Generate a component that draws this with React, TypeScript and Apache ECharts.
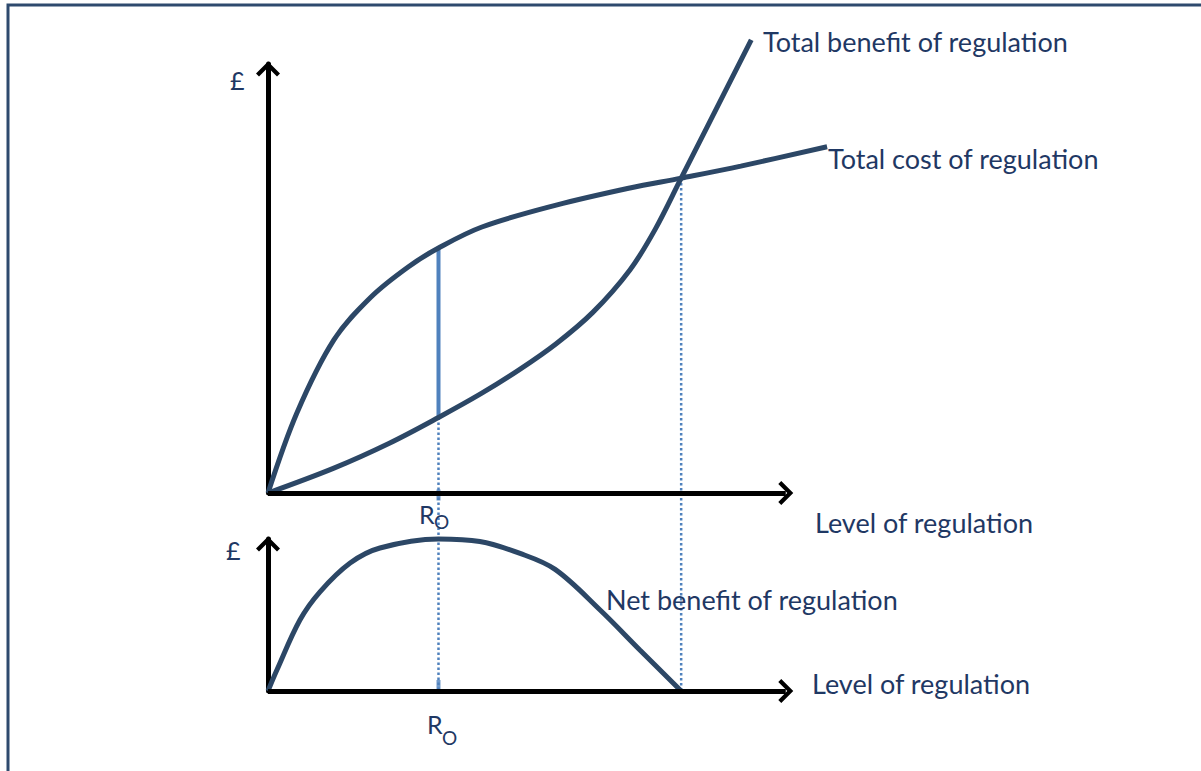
import React, { useEffect, useRef } from "react";
import * as echarts from "echarts";

// Level of regulation (x) and £ (y) (x-axis arrow reaches ~100)
const levelR0 = 32.6;
const levelStar = 79.0;
const axisEnd = 99;
const costX = [0, 5.5, 12.6, 19.7, 26.8, 32.6, 40.9, 55.1, 69.2, 79.0, 90.4, 106.9];
const costY = [0, 18.6, 35.7, 45.7, 52.7, 57.1, 62.0, 67.1, 71.1, 73.4, 76.2, 80.7];
const benefitX = [0, 12.6, 23.2, 32.6, 40.8, 48.0, 55.1, 62.1, 69.2, 74.0, 79.0, 84.0, 92.4];
const benefitY = [0, 5.8, 11.6, 17.6, 23.2, 28.7, 34.8, 42.1, 52.0, 61.4, 73.4, 85.4, 105.6];
const netX = [0, 1.7, 6.1, 9.9, 15.7, 21.4, 32.6, 40.5, 48.2, 54.9, 63.5, 71.1, 79.0];
const netY = [0, 13.8, 46.7, 65.1, 84.2, 94.1, 100, 98.3, 90.5, 80.0, 53.3, 27, 0];

const labels = {
  benefit: "Total benefit of regulation",
  cost: "Total cost of regulation",
  level: "Level of regulation",
  net: "Net benefit of regulation",
  pound: "£",
  r: "R",
  o: "O",
};

const CURVE = "#2c4766";
const BLUE = "#4f81bd";
const TEXT = "#1f3864";
const FONT = "Lato, 'Open Sans', sans-serif";
const CHEVRON = "path://M12 0 L24 12 L21 15 L12 6 L3 15 L0 12 Z";
const X_MAX = 110;
const PX_PER_UNIT = 5.23;

const zip = (xs: number[], ys: number[]) => xs.map((x, i) => [x, ys[i]]);

export default function App() {
  const ref = useRef<HTMLDivElement>(null);
  useEffect(() => {
    document.body.style.margin = "0";
    const chart = echarts.init(ref.current!, undefined, { renderer: "svg" });

    const hidden = {
      axisTick: { show: false },
      axisLabel: { show: false },
      splitLine: { show: false },
    };
    const yAxisLine = {
      show: true,
      onZero: false,
      symbol: ["none", CHEVRON],
      symbolSize: [24, 15],
      symbolOffset: [0, -5],
      lineStyle: { color: "#000", width: 5 },
    };
    const xAxisMark = {
      silent: true,
      symbol: ["none", CHEVRON],
      symbolSize: [24, 15],
      label: { show: false },
      emphasis: { disabled: true },
      lineStyle: { color: "#000", width: 5, type: "solid" },
      data: [[{ coord: [0, 0] }, { coord: [axisEnd, 0] }]],
    };

    chart.setOption({
      animation: false,
      backgroundColor: "#fff",
      grid: [
        { left: 268, top: 64, width: PX_PER_UNIT * X_MAX, height: 429 },
        { left: 268, top: 539, width: PX_PER_UNIT * X_MAX, height: 152 },
      ],
      xAxis: [
        { type: "value", gridIndex: 0, min: 0, max: X_MAX, axisLine: { show: false }, ...hidden },
        { type: "value", gridIndex: 1, min: 0, max: X_MAX, axisLine: { show: false }, ...hidden },
      ],
      yAxis: [
        { type: "value", gridIndex: 0, min: 0, max: 100, axisLine: yAxisLine, ...hidden },
        { type: "value", gridIndex: 1, min: 0, max: 100, axisLine: yAxisLine, ...hidden },
      ],
      series: [
        {
          type: "line",
          name: labels.cost,
          xAxisIndex: 0,
          yAxisIndex: 0,
          data: zip(costX, costY),
          smooth: 0.35,
          showSymbol: false,
          clip: false,
          lineStyle: { color: CURVE, width: 5 },
          markLine: xAxisMark,
          z: 3,
        },
        {
          type: "line",
          name: labels.benefit,
          xAxisIndex: 0,
          yAxisIndex: 0,
          data: zip(benefitX, benefitY),
          smooth: 0.35,
          showSymbol: false,
          clip: false,
          lineStyle: { color: CURVE, width: 5 },
          z: 3,
        },
        {
          type: "line",
          name: "gap",
          xAxisIndex: 0,
          yAxisIndex: 0,
          data: [
            [levelR0, benefitY[3]],
            [levelR0, costY[5]],
          ],
          showSymbol: false,
          lineStyle: { color: BLUE, width: 4 },
          z: 2,
        },
        {
          type: "scatter",
          xAxisIndex: 0,
          yAxisIndex: 0,
          data: [[levelR0, 0]],
          symbol: "rect",
          symbolSize: [4, 11],
          symbolOffset: [0, 2],
          itemStyle: { color: BLUE },
          clip: false,
          z: 4,
        },
        {
          type: "line",
          name: labels.net,
          xAxisIndex: 1,
          yAxisIndex: 1,
          data: zip(netX, netY),
          smooth: 0.35,
          showSymbol: false,
          clip: false,
          lineStyle: { color: CURVE, width: 5 },
          markLine: xAxisMark,
          z: 3,
        },
        {
          type: "scatter",
          xAxisIndex: 1,
          yAxisIndex: 1,
          data: [[levelR0, 0]],
          symbol: "rect",
          symbolSize: [4, 12],
          symbolOffset: [0, -5],
          itemStyle: { color: BLUE },
          clip: false,
          z: 4,
        },
      ],
    });

    const topR0 = chart.convertToPixel({ gridIndex: 0 }, [levelR0, benefitY[3]]) as number[];
    const botR0 = chart.convertToPixel({ gridIndex: 1 }, [levelR0, 0]) as number[];
    const topStar = chart.convertToPixel({ gridIndex: 0 }, [levelStar, costY[9]]) as number[];
    const botStar = chart.convertToPixel({ gridIndex: 1 }, [levelStar, 0]) as number[];

    const dotted = (a: number[], b: number[]) => ({
      type: "line",
      shape: { x1: a[0], y1: a[1], x2: b[0], y2: b[1] },
      style: { stroke: BLUE, lineWidth: 2.5, lineDash: [2.5, 2.5] },
      z: 1,
      silent: true,
    });
    const txt = (text: string, x: number, y: number, size = 27) => ({
      type: "text",
      x,
      y,
      style: {
        text,
        fill: TEXT,
        font: `${size}px ${FONT}`,
        align: "left",
        verticalAlign: "middle",
      },
      z: 10,
    });

    chart.setOption({
      graphic: [
        {
          type: "polyline",
          shape: { points: [[8, 800], [8, 5], [1210, 5]] },
          style: { stroke: "#2e4a6e", lineWidth: 3, fill: "none" },
          z: 0,
        },
        dotted(topR0, botR0),
        dotted(topStar, botStar),
        txt(labels.benefit, 763, 41),
        txt(labels.cost, 828, 158),
        txt(labels.level, 815, 522),
        txt(labels.net, 606, 599),
        txt(labels.level, 812, 683),
        txt(labels.pound, 230, 80, 25),
        txt(labels.pound, 226, 550, 25),
        txt(labels.r, 419, 514, 25),
        txt(labels.o, 434, 521, 19),
        txt(labels.r, 427, 724, 25),
        txt(labels.o, 442, 737, 19),
      ],
    });

    return () => chart.dispose();
  }, []);
  return <div ref={ref} style={{ width: 1201, height: 771 }} />;
}
